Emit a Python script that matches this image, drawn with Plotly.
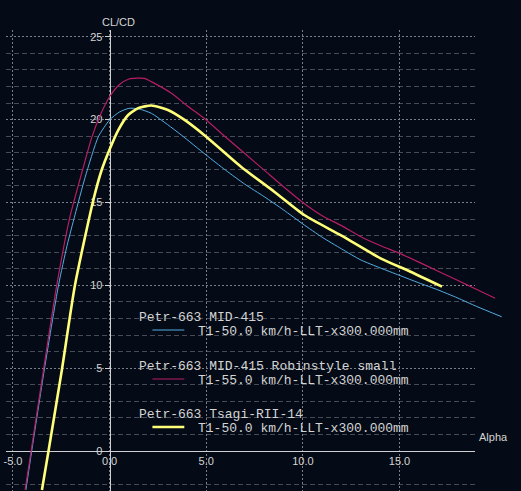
import plotly.graph_objects as go

W, H = 521, 491

# ---- data (alpha [deg], CL/CD) ----
alpha_mid415 = [-4.33, -4.03, -3.38, -2.64, -2.2, -1.79, -1.27, -0.58, 0.0, 0.5, 1.0, 1.5, 2.16, 3.0,
                3.71, 5.0, 6.0, 7.0, 8.0, 9.0, 10.0, 11.0, 12.0, 13.0, 14.0, 15.0, 16.0, 17.0, 18.0,
                19.0, 20.29]
clcd_mid415 = [-2.35, 0.0, 4.89, 10.02, 12.4, 14.25, 16.5, 18.97, 19.98, 20.45, 20.68, 20.65, 20.38, 19.7,
               19.07, 17.86, 16.95, 16.1, 15.35, 14.55, 13.7, 12.9, 12.2, 11.53, 11.05, 10.6, 10.15, 9.72,
               9.24, 8.72, 8.1]

alpha_robin = [-4.37, -4.06, -3.42, -2.73, -2.05, -1.44, -0.93, -0.45, 0.0, 0.5, 1.0, 1.8, 2.16, 3.2,
               4.0, 5.0, 6.0, 7.0, 8.0, 9.0, 10.0, 11.0, 12.0, 13.0, 14.0, 15.0, 16.0, 17.0, 18.0,
               19.0, 19.95]
clcd_robin = [-2.35, 0.0, 4.89, 10.02, 14.14, 16.78, 18.9, 20.35, 21.38, 22.1, 22.45, 22.49, 22.29, 21.59,
              20.85, 19.98, 18.95, 17.95, 16.95, 15.95, 15.0, 14.2, 13.6, 12.93, 12.4, 11.93, 11.4, 10.85,
              10.3, 9.75, 9.22]

alpha_tsagi = [-3.5, -3.16, -2.47, -1.79, -0.84, -0.41, 0.0, 0.45, 0.96, 1.5, 2.16, 3.02, 3.88, 5.0,
               6.8, 8.52, 10.07, 12.0, 14.02, 15.57, 17.2]
clcd_tsagi = [-2.35, 0.0, 4.89, 10.02, 15.15, 16.96, 18.2, 19.37, 20.28, 20.7, 20.85, 20.58, 19.98, 18.97,
              17.16, 15.65, 14.24, 13.0, 11.63, 10.82, 9.92]

series_names = ["Petr-663 MID-415", "Petr-663 MID-415 Robinstyle small", "Petr-663 Tsagi-RII-14"]
series_sub = ["T1-50.0 km/h-LLT-x300.000mm", "T1-55.0 km/h-LLT-x300.000mm", "T1-50.0 km/h-LLT-x300.000mm"]
series_colors = ["#52aee4", "#b81e66", "#ffff7a"]
series_widths = [1, 1.2, 2.6]

x_tickvals = [-5, 0, 5, 10, 15]
x_ticktext = ["-5.0", "0.0", "5.0", "10.0", "15.0"]
y_tickvals = [0, 5, 10, 15, 20, 25]
y_ticktext = ["0", "5", "10", "15", "20", "25"]
y_minorvals = [-2] + [v for v in range(1, 25) if v % 5 != 0]

# ---- layout geometry (pixels) ----
X0_PX, PX_PER_DEG = 108, 19.4
Y0_PX, PX_PER_UNIT = 451, 16.57
LEFT_PX, GRID_RIGHT_PX, TOP_PX = 4, 475, 30

def xval(px):
    return (px - X0_PX) / PX_PER_DEG

def yval(py):
    return (Y0_PX - py) / PX_PER_UNIT

xr = [xval(LEFT_PX), xval(GRID_RIGHT_PX)]
xr2 = [xval(LEFT_PX), xval(W)]
yr = [yval(H), yval(TOP_PX)]
ydom = [0, (H - TOP_PX) / H]

bg = "#050b16"
axis_col = "#d0d0d0"
text_col = "#d4d4d4"
major_grid = "#7c7f86"
minor_grid = "#464b55"

fig = go.Figure()
# empty trace to create the grid/axes subplot
fig.add_trace(go.Scatter(x=[], y=[], xaxis="x", yaxis="y", showlegend=False, hoverinfo="skip"))

all_x = [alpha_mid415, alpha_robin, alpha_tsagi]
all_y = [clcd_mid415, clcd_robin, clcd_tsagi]
for xs, ys, name, col, w in zip(all_x, all_y, series_names, series_colors, series_widths):
    fig.add_trace(go.Scatter(x=xs, y=ys, mode="lines", name=name, xaxis="x2", yaxis="y2",
                             line=dict(color=col, width=w, shape="spline", smoothing=0.6),
                             showlegend=False, hoverinfo="skip"))

fig.update_layout(
    width=W, height=H,
    margin=dict(l=0, r=0, t=0, b=0),
    paper_bgcolor=bg, plot_bgcolor="rgba(0,0,0,0)",
    showlegend=False,
    font=dict(family="Liberation Sans, Arial, sans-serif", size=11, color=text_col),
    xaxis=dict(domain=[LEFT_PX / W, GRID_RIGHT_PX / W], range=xr, anchor="free",
               position=(H - Y0_PX) / H, tickmode="array", tickvals=x_tickvals, ticktext=x_ticktext,
               showgrid=True, gridcolor=major_grid, griddash="2px,2px", gridwidth=1,
               showline=True, linecolor=axis_col, linewidth=1, zeroline=False, ticks="",
               tickfont=dict(size=11, color=text_col), fixedrange=True),
    yaxis=dict(domain=ydom, range=yr, anchor="free", position=X0_PX / W,
               tickmode="array", tickvals=y_tickvals, ticktext=y_ticktext,
               showgrid=True, gridcolor=major_grid, griddash="2px,2px", gridwidth=1,
               minor=dict(tickmode="array", tickvals=y_minorvals, showgrid=True,
                          gridcolor=minor_grid, griddash="5px,3px", ticks=""),
               showline=True, linecolor=axis_col, linewidth=1, zeroline=False,
               ticks="outside", ticklen=5, tickcolor=axis_col,
               tickfont=dict(size=11, color=text_col), fixedrange=True),
    xaxis2=dict(domain=[LEFT_PX / W, 1], range=xr2, anchor="y2", visible=False, fixedrange=True),
    yaxis2=dict(domain=ydom, range=yr, anchor="x2", visible=False, fixedrange=True),
)

# axis titles
fig.add_annotation(text="CL/CD", x=117 / W, y=1 - 22 / H, xref="paper", yref="paper",
                   showarrow=False, xanchor="center", yanchor="middle",
                   font=dict(size=11, color=text_col))
fig.add_annotation(text="Alpha", x=477 / W, y=1 - 437 / H, xref="paper", yref="paper",
                   showarrow=False, xanchor="left", yanchor="middle",
                   font=dict(size=11, color=text_col))

# legend (custom, monospace)
mono = "Liberation Mono, Courier New, monospace"
title_y = [317, 366, 414]
for i, (name, sub, col, w) in enumerate(zip(series_names, series_sub, series_colors, series_widths)):
    ty = title_y[i]
    fig.add_annotation(text=name, x=136 / W, y=1 - ty / H, xref="paper", yref="paper",
                       showarrow=False, xanchor="left", yanchor="middle",
                       font=dict(family=mono, size=13, color=text_col))
    fig.add_annotation(text=sub, x=195 / W, y=1 - (ty + 14) / H, xref="paper", yref="paper",
                       showarrow=False, xanchor="left", yanchor="middle",
                       font=dict(family=mono, size=13, color=text_col))
    fig.add_shape(type="line", xref="paper", yref="paper",
                  x0=151 / W, x1=183 / W, y0=1 - (ty + 13) / H, y1=1 - (ty + 13) / H,
                  line=dict(color=col, width=w))

fig.write_html("out.html", config={"displayModeBar": False, "staticPlot": True},
               post_script="document.body.style.margin='0';document.body.style.overflow='hidden';")
